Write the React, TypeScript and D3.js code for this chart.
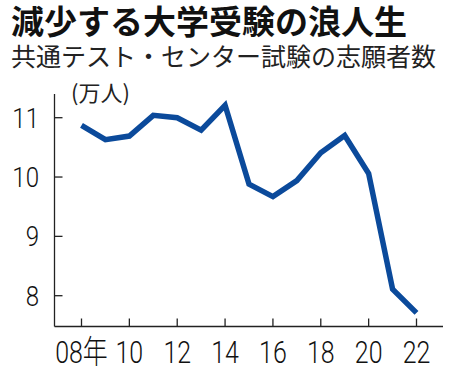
import * as React from 'react';
import * as d3 from 'd3';

const YEARS = [2008, 2009, 2010, 2011, 2012, 2013, 2014, 2015, 2016, 2017, 2018, 2019, 2020, 2021, 2022];
const VALUES = [10.87, 10.63, 10.69, 11.04, 11.0, 10.79, 11.21, 9.88, 9.67, 9.94, 10.41, 10.7, 10.06, 8.11, 7.71];
const X_TICKS = [2008, 2010, 2012, 2014, 2016, 2018, 2020, 2022];
const X_LABELS = ['08年', '10', '12', '14', '16', '18', '20', '22'];
const Y_TICKS = [8, 9, 10, 11];

const TITLE = '減少する大学受験の浪人生';
const SUBTITLE = '共通テスト・センター試験の志願者数';
const UNIT = '(万人)';

interface Pt {
    year: number;
    v: number;
}

const CJK = '"Noto Sans CJK JP", "Noto Sans", sans-serif';
const NUM = 'Roboto, "Noto Sans CJK JP", sans-serif';

const App: React.FC = () => {
    const svgRef = React.useRef<SVGSVGElement>(null);

    React.useEffect(() => {
        document.body.style.margin = '0';
        const svg = d3.select(svgRef.current);
        svg.selectAll('*').remove();

        const data: Pt[] = YEARS.map((year, i) => ({ year, v: VALUES[i] }));

        const xScale = d3.scaleLinear().domain([2008, 2022]).range([81.5, 416.5]);
        const yScale = d3.scaleLinear().domain([8, 11]).range([295.7, 117.7]);

        const AXIS_X = 54.5;
        const AXIS_Y = 326.5;

        /** ******** Title ********* */
        svg.append('text')
            .attr('x', 11)
            .attr('y', 34)
            .attr('font-family', CJK)
            .attr('font-weight', 'bold')
            .attr('font-size', 33)
            .attr('fill', '#111')
            .text(TITLE);
        svg.append('text')
            .attr('x', 11)
            .attr('y', 66)
            .attr('font-family', CJK)
            .attr('font-size', 25)
            .attr('fill', '#222')
            .text(SUBTITLE);
        svg.append('text')
            .attr('x', 71)
            .attr('y', 101)
            .attr('font-family', CJK)
            .attr('font-size', 22)
            .attr('fill', '#222')
            .text(UNIT);

        /** ******** Axis ********* */
        const axis = svg.append('g').attr('stroke', '#222').attr('stroke-width', 1.3);
        axis.append('line').attr('x1', AXIS_X).attr('x2', AXIS_X).attr('y1', 94).attr('y2', AXIS_Y);
        axis.append('line').attr('x1', AXIS_X).attr('x2', 443).attr('y1', AXIS_Y).attr('y2', AXIS_Y);

        axis.selectAll('.yt')
            .data(Y_TICKS)
            .enter()
            .append('line')
            .attr('x1', AXIS_X)
            .attr('x2', AXIS_X + 8)
            .attr('y1', d => yScale(d))
            .attr('y2', d => yScale(d));

        axis.selectAll('.xt')
            .data(X_TICKS)
            .enter()
            .append('line')
            .attr('x1', d => xScale(d))
            .attr('x2', d => xScale(d))
            .attr('y1', AXIS_Y)
            .attr('y2', AXIS_Y - 8);

        svg.selectAll('.yl')
            .data(Y_TICKS)
            .enter()
            .append('text')
            .attr('transform', d => `translate(39,${yScale(d)}) scale(0.86,1)`)
            .attr('dy', '0.36em')
            .attr('text-anchor', 'end')
            .attr('font-family', NUM)
            .attr('font-weight', 300)
            .attr('font-size', 28)
            .attr('fill', '#111')
            .text(d => String(d));

        svg.selectAll('.xl')
            .data(X_TICKS)
            .enter()
            .append('text')
            .attr('transform', d => `translate(${xScale(d)},363) scale(0.78,1)`)
            .attr('text-anchor', 'middle')
            .attr('font-family', NUM)
            .attr('font-weight', 300)
            .attr('font-size', 32)
            .attr('fill', '#111')
            .text((d, i) => X_LABELS[i]);

        /** ******** Line ********* */
        const line = d3
            .line<Pt>()
            .x(d => xScale(d.year))
            .y(d => yScale(d.v));
        svg.append('path')
            .datum(data)
            .attr('d', line)
            .attr('fill', 'none')
            .attr('stroke', '#0b4a9b')
            .attr('stroke-width', 5.5)
            .attr('stroke-linejoin', 'miter');
    });

    return <svg ref={svgRef} width={467} height={366} style={{ display: 'block', background: '#fff' }} />;
};

export default App;
